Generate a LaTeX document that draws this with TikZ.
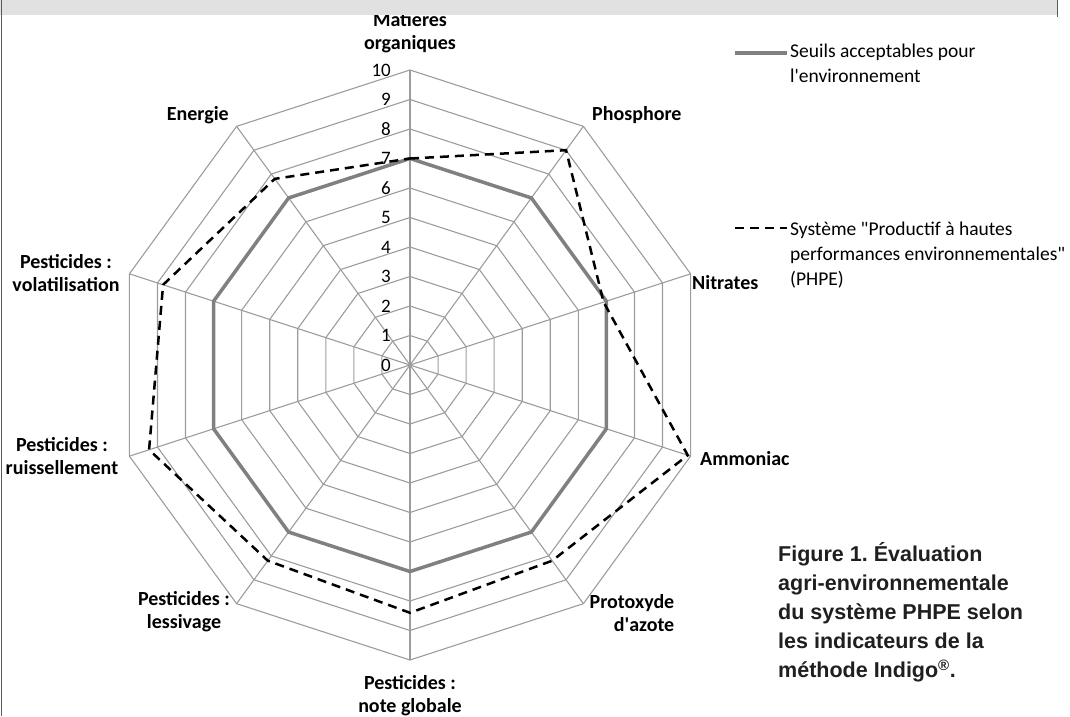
\documentclass[tikz,border=0pt]{standalone}
\usepackage{fontspec}
\setmainfont{Carlito}
\newfontfamily\captionfont{Liberation Sans}
\usetikzlibrary{positioning}
\frenchspacing

\definecolor{gridgrey}{HTML}{9C9C9C}
\definecolor{seuilgrey}{HTML}{808080}
\definecolor{bargrey}{HTML}{E1E1E1}
\definecolor{framegrey}{HTML}{5A5A5A}
\newcommand{\unitr}{29.5}

\begin{document}
\begin{tikzpicture}[x=1pt,y=1pt,
  axislabel/.style={font=\bfseries\fontsize{20}{23}\selectfont, inner sep=0pt, align=center},
  numlabel/.style={font=\fontsize{19}{23}\selectfont, inner sep=0pt, anchor=east},
  legendtext/.style={font=\fontsize{19.5}{25}\selectfont, inner sep=0pt, align=left, anchor=west},
  seuil/.style={seuilgrey, line width=3.5pt, line join=round},
  phpe/.style={black, line width=2.5pt, dash pattern=on 9pt off 6pt}]
\useasboundingbox (-410,-351) rectangle (660,365);

\foreach \r in {1,...,10}
  \draw [gridgrey, line width=1.1pt] (90:\r*\unitr) \foreach \a in {126,162,...,414} {-- (\a:\r*\unitr)} -- cycle;
\foreach \a in {90,126,...,414}
  \draw [gridgrey, line width=1.1pt] (0,0) -- (\a:10*\unitr);

\draw [seuil] (90:7*\unitr) \foreach \a in {126,162,...,414} {-- (\a:7*\unitr)} -- cycle;
\draw [phpe] (90:7*\unitr) -- (54:9*\unitr) -- (18:6.9*\unitr) -- (-18:9.9*\unitr)
  -- (-54:8.2*\unitr) -- (-90:8.4*\unitr) -- (-126:8.2*\unitr) -- (-162:9.3*\unitr)
  -- (162:8.8*\unitr) -- (126:7.8*\unitr) -- cycle;

\foreach \k in {0,...,10}
  \node [numlabel] (n\k) at (-19,\k*\unitr) {\k};

\node [axislabel] (mo) at (0,332) {Matières\\organiques};
\node [axislabel, anchor=west] (phos) at (182,250) {Phosphore};
\node [axislabel, anchor=west] (nitr) at (282,82) {Nitrates};
\node [axislabel, anchor=west] (ammo) at (290,-94) {Ammoniac};
\node [axislabel, align=right] (prot) at (222,-248) {Protoxyde\\d\textquotesingle azote};
\node [axislabel] (note) at (0,-331) {Pesticides :\\note globale};
\node [axislabel] (less) at (-226,-247) {Pesticides :\\lessivage};
\node [axislabel] (ruis) at (-348,-91) {Pesticides :\\ruissellement};
\node [axislabel] (vola) at (-344,92) {Pesticides :\\volatilisation};
\node [axislabel, anchor=east] (ener) at (-181,250) {Energie};

\coordinate (l1a) at (325,312);
\coordinate (l1b) at (377,312);
\draw [seuil] (l1a) -- (l1b);
\node [legendtext] (leg1) at (380,301.5) {Seuils acceptables pour\\l\textquotesingle environnement};
\coordinate (l2a) at (325,137);
\coordinate (l2b) at (377,137);
\draw [phpe] (l2a) -- (l2b);
\node [legendtext] (leg2) at (380,110) {Système \textquotedbl Productif à hautes\\performances environnementales\textquotedbl\\(PHPE)};

\node [font=\captionfont\bfseries\fontsize{21.5}{29}\selectfont, text=black!88, inner sep=0pt, align=left, anchor=west] (cap) at (368,-247.5)
  {Figure 1. Évaluation\\agri-environnementale\\du système PHPE selon\\les indicateurs de la\\méthode Indigo\textsuperscript{®}.};

\fill [bargrey] (-410,365) rectangle (648,350);
\draw [framegrey, line width=1.5pt] (-408.5,365) -- (-408.5,-351);
\draw [framegrey, line width=1.5pt] (647.5,365) -- (647.5,348);
\end{tikzpicture}
\end{document}
